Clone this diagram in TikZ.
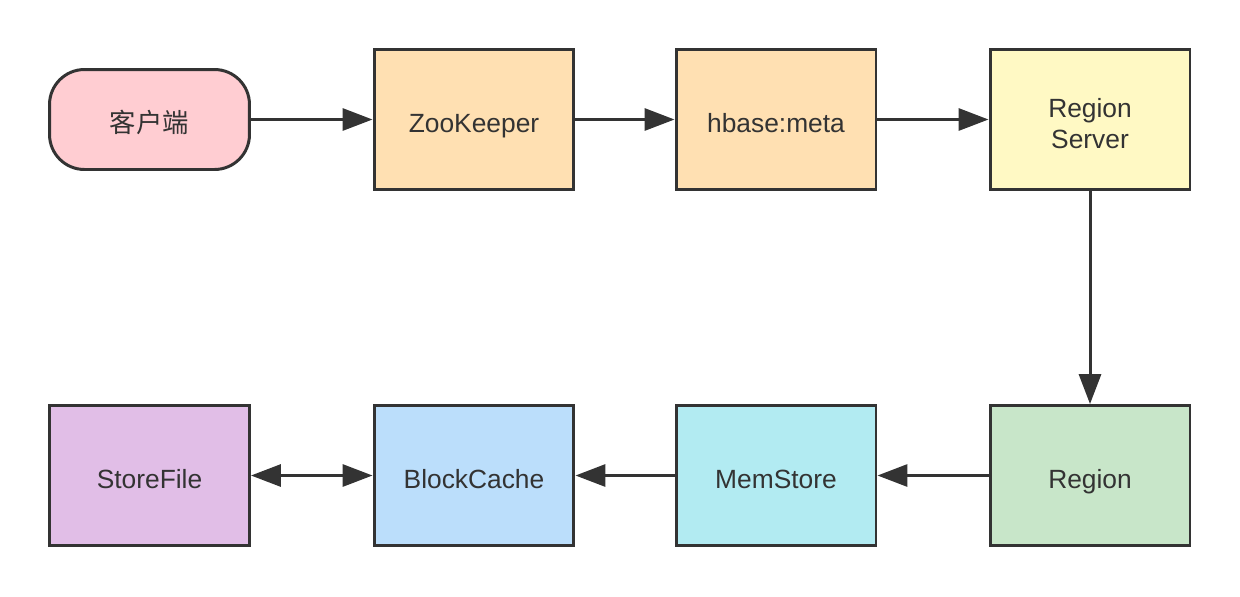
\documentclass[tikz,border=0pt]{standalone}
\usepackage{fontspec}
\setmainfont{Liberation Sans}
\newfontfamily\cjk{Noto Sans CJK SC}
\definecolor{darkline}{HTML}{333333}
\definecolor{clientpink}{HTML}{FFCDD2}
\definecolor{zkorange}{HTML}{FFE0B2}
\definecolor{rsyellow}{HTML}{FFF9C4}
\definecolor{regiongreen}{HTML}{C8E6C9}
\definecolor{memcyan}{HTML}{B2EBF2}
\definecolor{cacheblue}{HTML}{BBDEFB}
\definecolor{filepurple}{HTML}{E1BEE7}
\usetikzlibrary{arrows.meta, positioning}
\tikzstyle{box} = [rectangle, minimum width=4cm, minimum height=2.8cm, align=center, draw=darkline, line width=1.7pt, text=darkline, text height=18.3pt, text depth=3pt, font=\fontsize{15}{18}\selectfont]
\tikzstyle{arrow} = [-{Triangle[length=17pt, width=12.5pt]}, line width=1.7pt, color=darkline]

\begin{document}
\begin{tikzpicture}[
    x=0.02cm, y=-0.02cm,
    clientbox/.style={box, rounded corners=0.7cm, minimum height=2cm, fill=clientpink},
    zkbox/.style={box, fill=zkorange},
    rsbox/.style={box, fill=rsyellow, text height=36.3pt},
    regionbox/.style={box, fill=regiongreen},
    membox/.style={box, fill=memcyan},
    cachebox/.style={box, fill=cacheblue},
    filebox/.style={box, fill=filepurple},
    dblarrow/.style={arrow, {Triangle[length=17pt, width=12.5pt]}-{Triangle[length=17pt, width=12.5pt]}}
  ]
    \useasboundingbox (0,0) rectangle (1240,596);

    % Top row: lookup path
    \node[clientbox] (client) at (149.5,119.5) {\cjk 客户端};
    \node[zkbox] (zk) at (474,119.5) {ZooKeeper};
    \node[zkbox] (meta) at (776,119.5) {hbase:meta};
    \node[rsbox] (rs) at (1090,119.5) {Region\\Server};

    \draw[arrow] (client) -- (zk);
    \draw[arrow] (zk) -- (meta);
    \draw[arrow] (meta) -- (rs);

    % Bottom row: read path inside the server
    \node[filebox] (store) at (149.5,475.5) {StoreFile};
    \node[cachebox] (cache) at (474,475.5) {BlockCache};
    \node[membox] (mem) at (776,475.5) {MemStore};
    \node[regionbox] (region) at (1090,475.5) {Region};

    \draw[arrow] (rs) -- (region);
    \draw[arrow] (region) -- (mem);
    \draw[arrow] (mem) -- (cache);
    \draw[dblarrow] (store) -- (cache);
  \end{tikzpicture}
\end{document}
